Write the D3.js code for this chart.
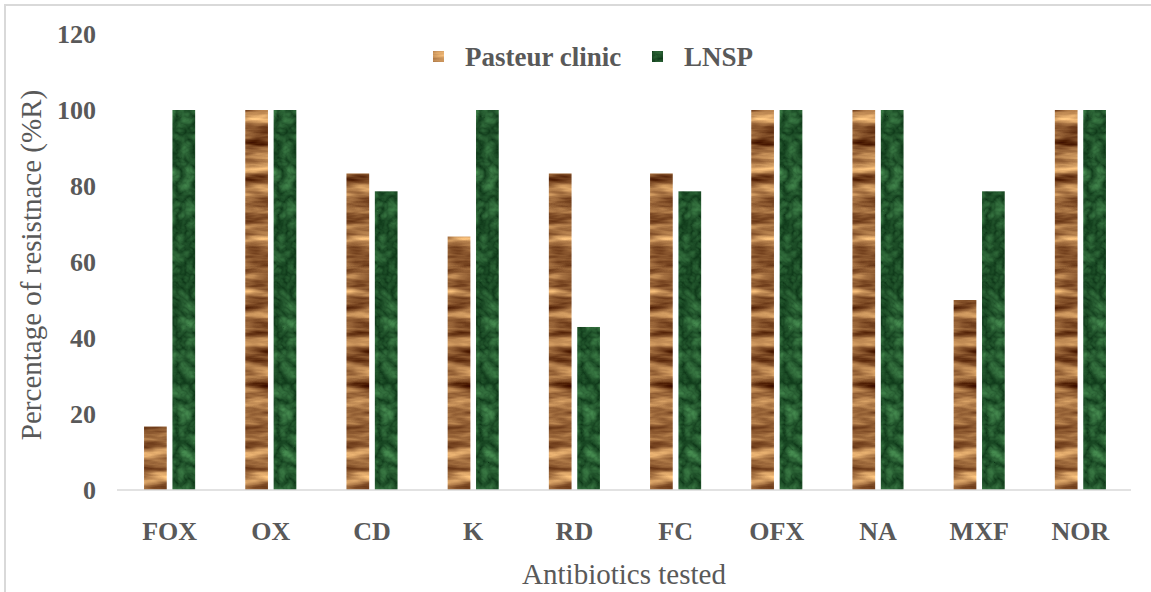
<!DOCTYPE html>
<html>
<head>
<meta charset="utf-8">
<script src="https://cdn.jsdelivr.net/npm/d3@7"></script>
<style>
  body { margin: 0; background: #fff; }
  svg { display: block; }
  text { font-family: "Liberation Serif", "DejaVu Serif", "Times New Roman", serif; fill: #595959; }
</style>
</head>
<body>
<svg width="1151" height="592"></svg>
<script>
var categories = ["FOX", "OX", "CD", "K", "RD", "FC", "OFX", "NA", "MXF", "NOR"];
var seriesNames = ["Pasteur clinic", "LNSP"];
var pasteurValues = [16.7, 100, 83.3, 66.7, 83.3, 83.3, 100, 100, 50, 100];
var lnspValues = [100, 100, 78.6, 100, 42.9, 78.6, 100, 100, 78.6, 100];
var yTicks = [0, 20, 40, 60, 80, 100, 120];

var svg = d3.select("svg"),
    width = +svg.attr("width"),
    height = +svg.attr("height");

var margin = {left: 119, right: 20, top: 34, bottom: 102};

// textures for the bars: wood and green marble
var defs = svg.append("defs");

var wood = defs.append("filter").attr("id", "wood")
    .attr("x", 0).attr("y", 0).attr("width", 1).attr("height", 1)
    .attr("color-interpolation-filters", "sRGB");
wood.append("feTurbulence")
    .attr("type", "fractalNoise")
    .attr("baseFrequency", "0.015 0.08")
    .attr("numOctaves", 4)
    .attr("seed", 11)
    .attr("result", "noise");
wood.append("feColorMatrix")
    .attr("in", "noise")
    .attr("type", "matrix")
    .attr("values", "1.2 0 0 0 0.02  1.15 0 0 0 -0.16  0.85 0 0 0 -0.19  0 0 0 0 1")
    .attr("result", "col");
wood.append("feComposite").attr("in", "col").attr("in2", "SourceGraphic").attr("operator", "in");

var marble = defs.append("filter").attr("id", "marble")
    .attr("x", 0).attr("y", 0).attr("width", 1).attr("height", 1)
    .attr("color-interpolation-filters", "sRGB");
marble.append("feTurbulence")
    .attr("type", "turbulence")
    .attr("baseFrequency", "0.06")
    .attr("numOctaves", 3)
    .attr("seed", 7)
    .attr("result", "noise");
marble.append("feColorMatrix")
    .attr("in", "noise")
    .attr("type", "matrix")
    .attr("values", "0.3 0 0 0 0.05  0.45 0 0 0 0.21  0.3 0 0 0 0.09  0 0 0 0 1")
    .attr("result", "col");
marble.append("feComposite").attr("in", "col").attr("in2", "SourceGraphic").attr("operator", "in");

var fills = ["url(#wood)", "url(#marble)"];

// frame
svg.append("rect")
    .attr("x", 5).attr("y", 5)
    .attr("width", width + 10).attr("height", height - 3)
    .attr("fill", "none")
    .attr("stroke", "#d9d9d9")
    .attr("stroke-width", 2);

var x0 = d3.scaleBand()
    .domain(categories)
    .range([margin.left, width - margin.right])
    .paddingInner(0.495)
    .paddingOuter(0.2475);

var x1 = d3.scaleBand()
    .domain(seriesNames)
    .range([0, x0.bandwidth()])
    .paddingInner(0.2);

var y = d3.scaleLinear()
    .domain([0, 120])
    .range([height - margin.bottom, margin.top]);

// y axis labels
svg.append("g")
  .selectAll("text")
  .data(yTicks)
  .enter().append("text")
    .attr("x", 96)
    .attr("y", function(d) { return y(d); })
    .attr("dy", "0.35em")
    .attr("text-anchor", "end")
    .attr("font-size", 26)
    .attr("font-weight", "bold")
    .text(function(d) { return d; });

// bars
var rows = categories.map(function(c, i) {
  return {cat: c, values: [pasteurValues[i], lnspValues[i]]};
});

var groups = svg.append("g")
  .selectAll("g")
  .data(rows)
  .enter().append("g")
    .attr("transform", function(d) { return "translate(" + x0(d.cat) + ",0)"; });

groups.selectAll("rect")
  .data(function(d) { return d.values.map(function(v, j) { return {key: seriesNames[j], value: v, j: j}; }); })
  .enter().append("rect")
    .attr("x", function(d) { return x1(d.key); })
    .attr("y", function(d) { return y(d.value); })
    .attr("width", x1.bandwidth())
    .attr("height", function(d) { return y(0) - y(d.value); })
    .attr("fill", "#000")
    .attr("filter", function(d) { return fills[d.j]; });

// baseline
svg.append("line")
    .attr("x1", margin.left - 2).attr("x2", width - margin.right)
    .attr("y1", y(0)).attr("y2", y(0))
    .attr("stroke", "#d9d9d9")
    .attr("stroke-width", 1.5);

// category labels
svg.append("g")
  .selectAll("text")
  .data(categories)
  .enter().append("text")
    .attr("x", function(d) { return x0(d) + x0.bandwidth() / 2; })
    .attr("y", 540)
    .attr("text-anchor", "middle")
    .attr("font-size", 26)
    .attr("font-weight", "bold")
    .text(function(d) { return d; });

// axis titles
svg.append("text")
    .attr("x", 624)
    .attr("y", 584)
    .attr("text-anchor", "middle")
    .attr("font-size", 29)
    .text("Antibiotics tested");

svg.append("text")
    .attr("transform", "translate(41,265) rotate(-90)")
    .attr("text-anchor", "middle")
    .attr("font-size", 29)
    .text("Percentage of resistnace (%R)");

// legend
var legendX = [433, 652];
var legend = svg.append("g")
  .selectAll("g")
  .data(seriesNames)
  .enter().append("g")
    .attr("transform", function(d, i) { return "translate(" + legendX[i] + ",51)"; });

legend.append("rect")
    .attr("width", 11).attr("height", 11)
    .attr("fill", "#000")
    .attr("filter", function(d, i) { return fills[i]; });

legend.append("text")
    .attr("x", 32)
    .attr("y", 5.5)
    .attr("dy", "0.35em")
    .attr("font-size", 27)
    .attr("font-weight", "bold")
    .text(function(d) { return d; });
</script>
</body>
</html>
